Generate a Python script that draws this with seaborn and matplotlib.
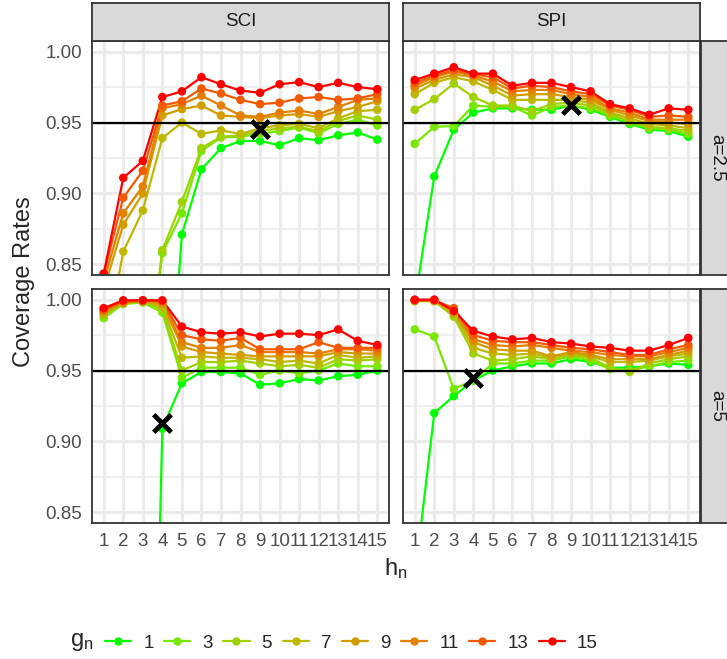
import numpy as np
import pandas as pd
import matplotlib
matplotlib.use("Agg")
import matplotlib.pyplot as plt
from matplotlib.lines import Line2D
import seaborn as sns

# ---------------------------------------------------------------- data
h_n = list(range(1, 16))
g_levels = [1, 3, 5, 7, 9, 11, 13, 15]
methods = ["SCI", "SPI"]
a_labels = ["a=2.5", "a=5"]
target = 0.95

# coverage rates: one row per g_n (1, 3, ..., 15), one value per h_n (1..15)
sci_a25 = [
    [0.620, 0.640, 0.660, 0.680, 0.871, 0.917, 0.932, 0.937, 0.937, 0.934, 0.939, 0.9375, 0.941, 0.943, 0.938],
    [0.690, 0.720, 0.740, 0.858, 0.886, 0.930, 0.9395, 0.940, 0.942, 0.944, 0.9465, 0.9425, 0.949, 0.952, 0.948],
    [0.700, 0.730, 0.750, 0.860, 0.894, 0.932, 0.940, 0.941, 0.944, 0.946, 0.947, 0.944, 0.951, 0.955, 0.952],
    [0.785, 0.859, 0.888, 0.939, 0.950, 0.942, 0.9445, 0.942, 0.946, 0.948, 0.949, 0.946, 0.953, 0.958, 0.959],
    [0.832, 0.878, 0.900, 0.955, 0.9595, 0.962, 0.955, 0.954, 0.953, 0.955, 0.956, 0.954, 0.958, 0.961, 0.965],
    [0.838, 0.886, 0.905, 0.960, 0.963, 0.969, 0.962, 0.955, 0.954, 0.957, 0.9585, 0.956, 0.961, 0.966, 0.967],
    [0.843, 0.897, 0.916, 0.962, 0.965, 0.974, 0.9705, 0.966, 0.963, 0.964, 0.967, 0.968, 0.966, 0.967, 0.970],
    [0.8435, 0.911, 0.923, 0.968, 0.972, 0.982, 0.977, 0.9725, 0.971, 0.977, 0.9785, 0.975, 0.978, 0.975, 0.9735],
]
spi_a25 = [
    [0.823, 0.912, 0.945, 0.957, 0.960, 0.960, 0.959, 0.959, 0.962, 0.959, 0.954, 0.949, 0.945, 0.944, 0.940],
    [0.935, 0.947, 0.9475, 0.962, 0.961, 0.961, 0.955, 0.961, 0.962, 0.960, 0.955, 0.950, 0.946, 0.945, 0.942],
    [0.959, 0.9665, 0.9775, 0.968, 0.962, 0.962, 0.958, 0.963, 0.964, 0.962, 0.956, 0.951, 0.947, 0.946, 0.944],
    [0.970, 0.978, 0.982, 0.979, 0.973, 0.966, 0.966, 0.966, 0.966, 0.964, 0.957, 0.953, 0.949, 0.948, 0.946],
    [0.974, 0.980, 0.984, 0.982, 0.976, 0.969, 0.970, 0.970, 0.968, 0.966, 0.959, 0.955, 0.951, 0.950, 0.949],
    [0.976, 0.982, 0.986, 0.983, 0.979, 0.972, 0.973, 0.973, 0.970, 0.968, 0.960, 0.957, 0.952, 0.952, 0.952],
    [0.978, 0.983, 0.987, 0.984, 0.982, 0.974, 0.976, 0.975, 0.972, 0.970, 0.962, 0.959, 0.954, 0.955, 0.954],
    [0.980, 0.9845, 0.989, 0.9845, 0.9845, 0.976, 0.978, 0.978, 0.975, 0.972, 0.963, 0.960, 0.9555, 0.960, 0.959],
]
sci_a5 = [
    [0.300, 0.320, 0.340, 0.909, 0.941, 0.949, 0.949, 0.948, 0.940, 0.941, 0.944, 0.943, 0.946, 0.947, 0.950],
    [0.987, 0.997, 0.998, 0.991, 0.945, 0.952, 0.952, 0.952, 0.947, 0.950, 0.948, 0.950, 0.955, 0.953, 0.953],
    [0.989, 0.997, 0.9985, 0.993, 0.950, 0.956, 0.956, 0.957, 0.955, 0.953, 0.954, 0.952, 0.958, 0.957, 0.958],
    [0.990, 0.998, 0.999, 0.995, 0.959, 0.960, 0.959, 0.959, 0.958, 0.956, 0.957, 0.955, 0.961, 0.959, 0.960],
    [0.991, 0.998, 0.999, 0.997, 0.967, 0.963, 0.962, 0.961, 0.960, 0.960, 0.960, 0.960, 0.963, 0.962, 0.962],
    [0.992, 0.998, 0.999, 0.998, 0.970, 0.966, 0.966, 0.968, 0.963, 0.963, 0.963, 0.962, 0.965, 0.965, 0.964],
    [0.993, 0.999, 0.9995, 0.999, 0.975, 0.972, 0.971, 0.973, 0.965, 0.965, 0.965, 0.970, 0.966, 0.966, 0.966],
    [0.994, 0.9995, 0.9995, 0.9995, 0.981, 0.977, 0.976, 0.977, 0.974, 0.976, 0.976, 0.975, 0.979, 0.971, 0.968],
]
spi_a5 = [
    [0.803, 0.920, 0.932, 0.943, 0.950, 0.953, 0.955, 0.955, 0.958, 0.956, 0.952, 0.952, 0.953, 0.955, 0.954],
    [0.979, 0.974, 0.937, 0.943, 0.955, 0.955, 0.957, 0.957, 0.960, 0.957, 0.951, 0.950, 0.953, 0.956, 0.957],
    [0.999, 0.999, 0.988, 0.962, 0.957, 0.958, 0.960, 0.958, 0.961, 0.959, 0.952, 0.949, 0.955, 0.958, 0.960],
    [0.999, 0.999, 0.990, 0.966, 0.962, 0.961, 0.962, 0.959, 0.962, 0.960, 0.956, 0.956, 0.957, 0.960, 0.962],
    [0.9995, 0.9995, 0.991, 0.970, 0.965, 0.964, 0.964, 0.960, 0.963, 0.961, 0.958, 0.958, 0.958, 0.961, 0.964],
    [0.9995, 0.9995, 0.993, 0.972, 0.968, 0.967, 0.968, 0.966, 0.964, 0.963, 0.961, 0.960, 0.960, 0.963, 0.966],
    [0.9995, 0.9995, 0.994, 0.975, 0.971, 0.970, 0.970, 0.968, 0.966, 0.965, 0.963, 0.961, 0.961, 0.965, 0.968],
    [1.000, 1.000, 0.992, 0.978, 0.974, 0.972, 0.973, 0.970, 0.969, 0.967, 0.966, 0.964, 0.964, 0.968, 0.973],
]

# selected (h_n, coverage) per panel: SCI a=2.5, SPI a=2.5, SCI a=5, SPI a=5
chosen_h = [9, 9, 4, 4]
chosen_cov = [0.9456, 0.9625, 0.913, 0.9445]

# ---------------------------------------------------------------- colours
_M = np.array([[0.4124564, 0.3575761, 0.1804375],
               [0.2126729, 0.7151522, 0.0721750],
               [0.0193339, 0.1191920, 0.9503041]])
_WHITE = np.array([0.95047, 1.0, 1.08883])
_D = 6 / 29


def to_lab(rgb):
    rgb = np.asarray(rgb, float)
    lin = np.where(rgb <= 0.04045, rgb / 12.92, ((rgb + 0.055) / 1.055) ** 2.4)
    xyz = _M @ lin / _WHITE
    f = np.where(xyz > _D ** 3, np.cbrt(xyz), xyz / (3 * _D * _D) + 4 / 29)
    return np.array([116 * f[1] - 16, 500 * (f[0] - f[1]), 200 * (f[1] - f[2])])


def from_lab(lab):
    L, a, b = lab
    fy = (L + 16) / 116
    f = np.array([fy + a / 500, fy, fy - b / 200])
    xyz = np.where(f > _D, f ** 3, 3 * _D * _D * (f - 4 / 29)) * _WHITE
    lin = np.clip(np.linalg.inv(_M) @ xyz, 0, 1)
    rgb = np.where(lin <= 0.0031308, 12.92 * lin, 1.055 * lin ** (1 / 2.4) - 0.055)
    return tuple(np.clip(rgb, 0, 1))


low, high = to_lab((0, 1, 0)), to_lab((1, 0, 0))
gmin, gmax = min(g_levels), max(g_levels)
palette = {g: from_lab(low + (high - low) * (g - gmin) / (gmax - gmin)) for g in g_levels}

# ---------------------------------------------------------------- long table
tables = {(0, 0): sci_a25, (0, 1): spi_a25, (1, 0): sci_a5, (1, 1): spi_a5}
frames = []
for (r, c), table in tables.items():
    for g, vals in zip(g_levels, table):
        frames.append(pd.DataFrame({"a": a_labels[r], "method": methods[c],
                                    "h": h_n, "g": g, "cov": vals}))
df = pd.concat(frames, ignore_index=True)

# ---------------------------------------------------------------- style
sns.set_style("white")
plt.rcParams["font.family"] = ["Liberation Sans", "DejaVu Sans"]
plt.rcParams["mathtext.fontset"] = "custom"
plt.rcParams["mathtext.rm"] = "Liberation Sans"

W, H = 727, 659
fig = plt.figure(figsize=(W / 100, H / 100), dpi=100)
fig.patch.set_facecolor("white")


def rect(x0, y0, x1, y1):
    return [x0 / W, 1 - y1 / H, (x1 - x0) / W, (y1 - y0) / H]


col_x = [(92, 389), (403, 700)]
row_y = [(41, 275), (289, 523)]
border = "#333333"
grid_c = "#EBEBEB"
tick_fs = 13.5
title_fs = 17
line_w = 1.6
dot_s = 38

for (r, c), _ in tables.items():
    x0, x1 = col_x[c]
    y0, y1 = row_y[r]
    ax = fig.add_axes(rect(x0, y0, x1, y1))
    ax.set_facecolor("white")
    sub = df[(df["a"] == a_labels[r]) & (df["method"] == methods[c])]

    sns.lineplot(data=sub, x="h", y="cov", hue="g", palette=palette,
                 hue_order=g_levels, linewidth=line_w, legend=False,
                 errorbar=None, ax=ax, zorder=2)
    sns.scatterplot(data=sub, x="h", y="cov", hue="g", palette=palette,
                    hue_order=g_levels, s=dot_s, linewidth=0, legend=False,
                    ax=ax, zorder=3)
    ax.axhline(target, color="black", lw=1.6, zorder=4)
    i = r * 2 + c
    ax.scatter([chosen_h[i]], [chosen_cov[i]], marker="x", s=160,
               linewidths=3.5, color="black", zorder=5)

    ax.set_xlim(0.4, 15.6)
    ax.set_ylim(0.8425, 1.0075)
    ax.set_xticks(h_n)
    ax.set_xticklabels([str(v) for v in h_n])
    ax.set_yticks([0.85, 0.90, 0.95, 1.00])
    ax.set_yticklabels(["0.85", "0.90", "0.95", "1.00"])
    ax.set_yticks([0.875, 0.925, 0.975], minor=True)
    ax.grid(which="major", color=grid_c, lw=2.2)
    ax.grid(which="minor", axis="y", color=grid_c, lw=1.1)
    ax.set_axisbelow(True)
    ax.set_xlabel("")
    ax.set_ylabel("")
    ax.tick_params(which="major", length=4.3, width=1.2, color=border,
                   labelsize=tick_fs, labelcolor="#4D4D4D", pad=3)
    ax.tick_params(which="minor", length=0)
    if r == 0:
        ax.tick_params(axis="x", length=0, labelbottom=False)
    if c == 1:
        ax.tick_params(axis="y", length=0, labelleft=False)
    for sp in ax.spines.values():
        sp.set_color(border)
        sp.set_linewidth(1.3)
        sp.set_zorder(6)

# facet strips
for c, name in enumerate(methods):
    x0, x1 = col_x[c]
    sax = fig.add_axes(rect(x0, 3, x1, 41))
    sax.set_facecolor("#D9D9D9")
    sax.set_xticks([]); sax.set_yticks([])
    for sp in sax.spines.values():
        sp.set_color(border); sp.set_linewidth(1.3)
    sax.text(0.5, 0.5, name, transform=sax.transAxes, ha="center",
             va="center", fontsize=tick_fs, color="#1A1A1A")

for r, name in enumerate(a_labels):
    y0, y1 = row_y[r]
    sax = fig.add_axes(rect(701, y0, 735, y1))
    sax.set_facecolor("#D9D9D9")
    sax.set_xticks([]); sax.set_yticks([])
    for sp in sax.spines.values():
        sp.set_color(border); sp.set_linewidth(1.3)
    sax.text(0.47, 0.5, name, transform=sax.transAxes, ha="center",
             va="center", rotation=-90, fontsize=tick_fs, color="#1A1A1A")

# axis titles
fig.text(24 / W, 1 - 282 / H, "Coverage Rates", rotation=90, ha="center",
         va="center", fontsize=title_fs)
fig.text(396 / W, 1 - 569 / H, r"$\mathregular{h_n}$", ha="center",
         va="center", fontsize=title_fs)

# legend along the bottom
handles = [Line2D([0], [0], color=palette[g], lw=line_w, marker="o", ms=6,
                  mec=palette[g], mew=0) for g in g_levels]
fig.text(93 / W, 1 - 642 / H, r"$\mathregular{g_n}$", ha="right",
         va="center", fontsize=title_fs)
fig.legend(handles, [str(g) for g in g_levels], ncol=len(g_levels),
           loc="center left", bbox_to_anchor=(105 / W, 1 - 643 / H),
           frameon=False, fontsize=tick_fs, handlelength=1.4,
           handletextpad=0.65, columnspacing=0.55, borderpad=0,
           borderaxespad=0)

fig.savefig("out.png", dpi=100)
